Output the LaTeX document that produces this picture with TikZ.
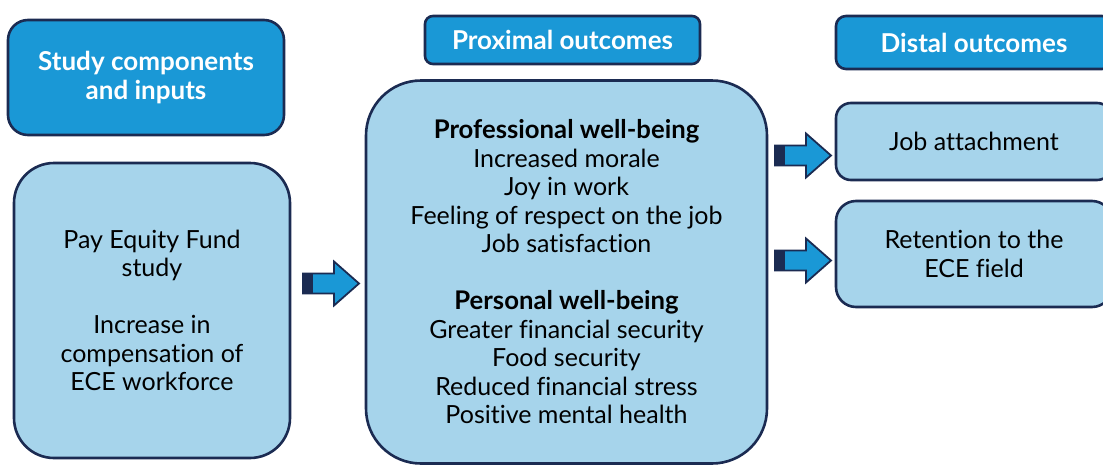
\documentclass[tikz,border=0pt]{standalone}
\usepackage{fontspec}
\setmainfont{Lato}[Ligatures={NoCommon}]
\definecolor{navy}{HTML}{1B2B52}
\definecolor{headblue}{HTML}{1A98D6}
\definecolor{paleblue}{HTML}{A6D4EB}
% block arrow with a dark tail band; #1 = tail x, #2 = centre y
\newcommand\blockarrow[2]{%
  \draw[navy, line width=1.8pt, fill=headblue, line join=miter]
    (#1,#2-10) -- ++(31,0) -- ++(0,-12) -- ++(25,22) -- ++(-25,22) -- ++(0,-12) -- ++(-31,0) -- cycle;
  \fill[navy] (#1,#2-10) rectangle ++(10,20);
}
\newcommand\subhead[1]{{\fontsize{25.7}{28.5}\selectfont\bfseries #1}}
\begin{document}
\begin{tikzpicture}[x=1pt,y=-1pt,
  box/.style={draw=navy, line width=2.6pt, fill=paleblue, align=center, text=black,
    font=\fontsize{25}{28.5}\selectfont, inner sep=0pt},
  header/.style={draw=navy, line width=2.6pt, fill=headblue, align=center, text=white,
    font=\fontsize{26}{29}\selectfont\bfseries, inner sep=0pt},
]
\useasboundingbox (0,0) rectangle (1103,466);

% column 1
\node[header, rounded corners=20pt, minimum width=276pt, minimum height=115pt]
  (inhead) at (146,77.5) {Study components\\and inputs};
\node[box, rounded corners=40pt, minimum width=276pt, minimum height=295pt]
  (inputs) at (152,310.5) {Pay Equity Fund\\study\\[28.5pt]Increase in\\compensation of\\ECE workforce};

% column 2
\node[header, rounded corners=8pt, minimum width=275pt, minimum height=48pt]
  (proxhead) at (562.5,40) {Proximal outcomes};
\node[box, rounded corners=55pt, minimum width=401pt, minimum height=383pt]
  (proximal) at (566.5,272) {\subhead{Professional well-being}\\Increased morale\\Joy in work\\Feeling of respect on the job\\Job satisfaction\\[28.5pt]\subhead{Personal well-being}\\Greater financial security\\Food security\\Reduced financial stress\\Positive mental health};

% column 3
\node[header, rounded corners=10pt, minimum width=276pt, minimum height=53pt]
  (disthead) at (974,42.5) {Distal outcomes};
\node[box, rounded corners=15pt, minimum width=276pt, minimum height=77pt]
  (attach) at (974,141.5) {Job attachment};
\node[box, rounded corners=20pt, minimum width=276pt, minimum height=106pt]
  (retain) at (974,254) {Retention to the\\ECE field};

% block arrows between the columns
\blockarrow{303}{283.5}
\blockarrow{775}{155.5}
\blockarrow{775}{260.5}
\end{tikzpicture}
\end{document}
